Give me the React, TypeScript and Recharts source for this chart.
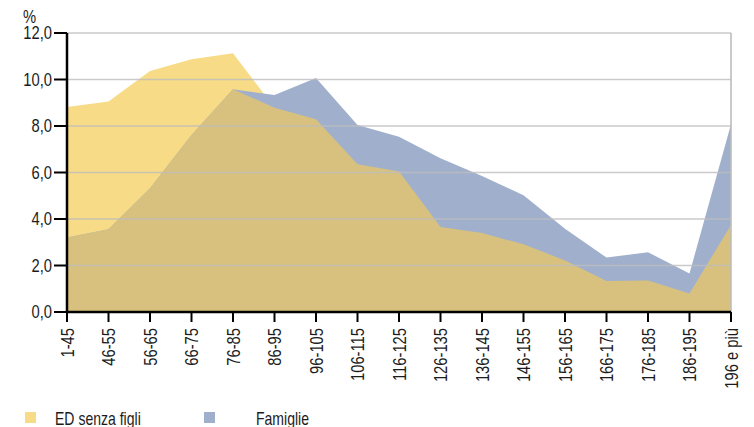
import React from 'react';
import {
  AreaChart,
  Area,
  XAxis,
  YAxis,
  ReferenceLine,
} from 'recharts';

// fasce di consumo (m²) e quote percentuali
const categories = [
  '1-45', '46-55', '56-65', '66-75', '76-85', '86-95', '96-105', '106-115',
  '116-125', '126-135', '136-145', '146-155', '156-165', '166-175', '176-185',
  '186-195', '196 e più',
];
const edSenzaFigli = [
  8.82, 9.05, 10.37, 10.87, 11.13, 8.79, 8.29, 6.35, 6.04, 3.66, 3.4, 2.91,
  2.22, 1.33, 1.36, 0.8, 3.74,
];
const famiglie = [
  3.2, 3.56, 5.32, 7.61, 9.58, 9.33, 10.06, 8.04, 7.54, 6.61, 5.85, 5.02,
  3.58, 2.34, 2.57, 1.66, 8.07,
];
const yTicks = [0, 2, 4, 6, 8, 10, 12];

// nessun font condensato installato: Liberation Sans schiacciato in orizzontale
const FONT = "'Liberation Sans', Arial, sans-serif";
const NARROW = 0.82;
const TEXT = '#1c1c1c';
const YELLOW = '#f8db86';
const BLUE = '#a0b0cc';
const OVERLAP = '#d8c17e';
const GRID = '#bdbdbd';

const data = categories.map((cat, i) => ({
  cat,
  ed: edSenzaFigli[i],
  fam: famiglie[i],
  // parte comune delle due aree
  both: Math.min(edSenzaFigli[i], famiglie[i]),
}));

const fmt = (v: number) => v.toFixed(1).replace('.', ',');

function XTick({ x, y, payload }: any) {
  return (
    <g transform={`translate(${x + 6.5},${y}) rotate(-90) scale(${NARROW},1)`}>
      <text x={0} y={0} textAnchor="end" fill={TEXT} fontSize={18} fontFamily={FONT}>
        {payload.value}
      </text>
    </g>
  );
}

function YTick({ x, y, payload }: any) {
  return (
    <g transform={`translate(${x},${y}) scale(${NARROW},1)`}>
      <text x={0} y={0} dy="0.36em" textAnchor="end" fill={TEXT} fontSize={18} fontFamily={FONT}>
        {fmt(payload.value)}
      </text>
    </g>
  );
}

function NarrowText({ x, y, children, scale = NARROW }: any) {
  return (
    <g transform={`translate(${x},${y}) scale(${scale},1)`}>
      <text x={0} y={0} fill={TEXT} fontSize={18} fontFamily={FONT}>
        {children}
      </text>
    </g>
  );
}

export default function App() {
  return (
    <div style={{ position: 'absolute', left: 0, top: 0, width: 754, height: 427, background: '#fff' }}>
      <AreaChart
        width={754}
        height={427}
        data={data}
        margin={{ top: 33, right: 23, bottom: 0, left: 0 }}
      >
        <XAxis
          dataKey="cat"
          interval={0}
          height={115}
          tickSize={10}
          tickMargin={6}
          tick={<XTick />}
          axisLine={{ stroke: '#000', strokeWidth: 2.5 }}
          tickLine={{ stroke: '#000', strokeWidth: 2 }}
        />
        <YAxis
          domain={[0, 12]}
          ticks={yTicks}
          width={67}
          tickSize={13}
          tickMargin={2}
          tick={<YTick />}
          axisLine={{ stroke: '#000', strokeWidth: 2.5 }}
          tickLine={{ stroke: '#000', strokeWidth: 2 }}
        />
        <Area type="linear" dataKey="ed" stroke="none" fill={YELLOW} fillOpacity={1} isAnimationActive={false} />
        <Area type="linear" dataKey="fam" stroke="none" fill={BLUE} fillOpacity={1} isAnimationActive={false} />
        <Area type="linear" dataKey="both" stroke="none" fill={OVERLAP} fillOpacity={1} isAnimationActive={false} />
        {yTicks.slice(1).map((t) => (
          <ReferenceLine key={t} y={t} stroke={GRID} strokeWidth={1.5} strokeOpacity={0.8} />
        ))}
        <ReferenceLine x={categories[categories.length - 1]} stroke={GRID} strokeWidth={2} strokeOpacity={0.8} />
      </AreaChart>

      <svg
        width={754}
        height={427}
        style={{ position: 'absolute', left: 0, top: 0, pointerEvents: 'none' }}
      >
        <NarrowText x={23} y={23}>%</NarrowText>
        <rect x={25} y={412} width={11} height={11} fill={YELLOW} />
        <NarrowText x={55} y={425} scale={0.78}>ED senza figli</NarrowText>
        <rect x={204} y={412} width={11} height={11} fill={BLUE} />
        <NarrowText x={256} y={425} scale={0.78}>Famiglie</NarrowText>
      </svg>
    </div>
  );
}
